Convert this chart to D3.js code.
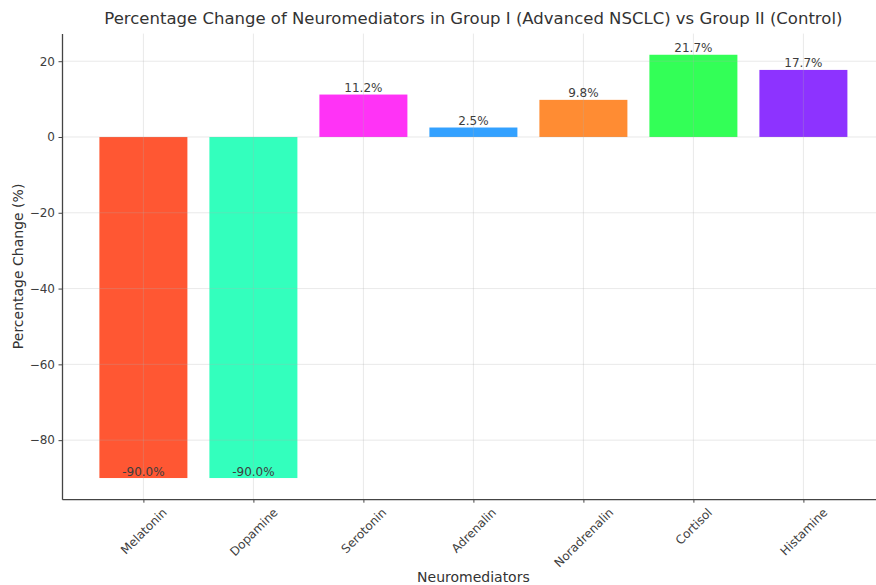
<!DOCTYPE html>
<html>
<head>
<meta charset="utf-8">
<script src="https://cdn.jsdelivr.net/npm/d3@7"></script>
<style>
  html, body { margin: 0; padding: 0; background: #ffffff; }
  svg { display: block; font-family: "DejaVu Sans", sans-serif; }
</style>
</head>
<body>
<svg id="chart" width="876" height="585"></svg>
<script>
// Percentage change per neuromediator, Group I vs Group II
const categories = ["Melatonin", "Dopamine", "Serotonin", "Adrenalin", "Noradrenalin", "Cortisol", "Histamine"];
const changes = [-90.0, -90.0, 11.2, 2.5, 9.8, 21.7, 17.7];
const barColors = ["#FF5733", "#33FFBD", "#FF33F6", "#33A1FF", "#FF8C33", "#33FF57", "#8D33FF"];
const yTicks = [-80, -60, -40, -20, 0, 20];

const svg = d3.select("#chart");
const plot = { left: 62, right: 884.8, top: 33.6, bottom: 499.2 };

// Category index scale with a 5% margin on each side of the bar extent
const barWidth = 0.8;
const xMin = -barWidth / 2, xMax = categories.length - 1 + barWidth / 2;
const xPad = (xMax - xMin) * 0.05;
const x = d3.scaleLinear().domain([xMin - xPad, xMax + xPad]).range([plot.left, plot.right]);

const yLo = d3.min(changes), yHi = d3.max(changes);
const yPad = (yHi - yLo) * 0.05;
const y = d3.scaleLinear().domain([yLo - yPad, yHi + yPad]).range([plot.bottom, plot.top]);

const textColor = "#3d3d3d";

// Bars
svg.append("g").selectAll("rect")
  .data(changes)
  .join("rect")
  .attr("x", (d, i) => x(i - barWidth / 2))
  .attr("width", (d, i) => x(i + barWidth / 2) - x(i - barWidth / 2))
  .attr("y", d => y(Math.max(0, d)))
  .attr("height", d => Math.abs(y(d) - y(0)))
  .attr("fill", (d, i) => barColors[i]);

// Grid drawn over the bars, as in matplotlib's default layering
const grid = svg.append("g").attr("stroke", "#b0b0b0").attr("stroke-opacity", 0.35).attr("stroke-width", 0.8);
grid.selectAll("line.h").data(yTicks).join("line")
  .attr("class", "h")
  .attr("x1", plot.left).attr("x2", plot.right)
  .attr("y1", d => y(d)).attr("y2", d => y(d));
grid.selectAll("line.v").data(categories.map((c, i) => i)).join("line")
  .attr("class", "v")
  .attr("y1", plot.top).attr("y2", plot.bottom)
  .attr("x1", d => x(d)).attr("x2", d => x(d));

// Y axis
const yAxis = svg.append("g")
  .attr("transform", `translate(${plot.left},0)`)
  .call(d3.axisLeft(y).tickValues(yTicks).tickSize(3.5).tickSizeOuter(0).tickPadding(3.5)
    .tickFormat(d => (d < 0 ? "\u2212" + Math.abs(d) : String(d))));
yAxis.select(".domain").attr("stroke", "#444").attr("stroke-width", 1.3);
yAxis.selectAll(".tick line").attr("stroke", "#444").attr("stroke-width", 1);
yAxis.selectAll(".tick text").attr("fill", textColor).style("font-size", "12px")
  .style("font-family", "DejaVu Sans, sans-serif");

// X axis with rotated category labels
const xAxis = svg.append("g")
  .attr("transform", `translate(0,${plot.bottom})`)
  .call(d3.axisBottom(x).tickValues(categories.map((c, i) => i)).tickSize(3.5).tickSizeOuter(0)
    .tickFormat(i => categories[i]));
xAxis.select(".domain").attr("stroke", "#444").attr("stroke-width", 1.3);
xAxis.selectAll(".tick line").attr("stroke", "#444").attr("stroke-width", 1);
xAxis.selectAll(".tick text")
  .attr("fill", textColor)
  .style("font-size", "12px")
  .style("font-family", "DejaVu Sans, sans-serif")
  .attr("text-anchor", "middle")
  .attr("dominant-baseline", "central")
  .attr("dy", null)
  .each(function () {
    const t = d3.select(this);
    const len = this.getComputedTextLength();
    const h = 12;
    const boxH = (len + h) * Math.SQRT1_2;
    t.attr("y", null).attr("transform", `translate(0,${7 + boxH / 2}) rotate(-45)`);
  });

// Value labels, bottom edge resting on each bar's value
svg.append("g").selectAll("text")
  .data(changes)
  .join("text")
  .attr("x", (d, i) => x(i))
  .attr("y", d => y(d) - 2.5)
  .attr("text-anchor", "middle")
  .attr("fill", textColor)
  .style("font-size", "12px")
  .text(d => d.toFixed(1) + "%");

// Title and axis labels
svg.append("text")
  .attr("x", (plot.left + plot.right) / 2).attr("y", 24)
  .attr("text-anchor", "middle").attr("fill", "#333")
  .style("font-size", "16.5px")
  .text("Percentage Change of Neuromediators in Group I (Advanced NSCLC) vs Group II (Control)");

svg.append("text")
  .attr("x", (plot.left + plot.right) / 2).attr("y", 582)
  .attr("text-anchor", "middle").attr("fill", "#333")
  .style("font-size", "14px")
  .text("Neuromediators");

svg.append("text")
  .attr("transform", `translate(23,${(plot.top + plot.bottom) / 2}) rotate(-90)`)
  .attr("text-anchor", "middle").attr("fill", "#333")
  .style("font-size", "14px")
  .text("Percentage Change (%)");
</script>
</body>
</html>
